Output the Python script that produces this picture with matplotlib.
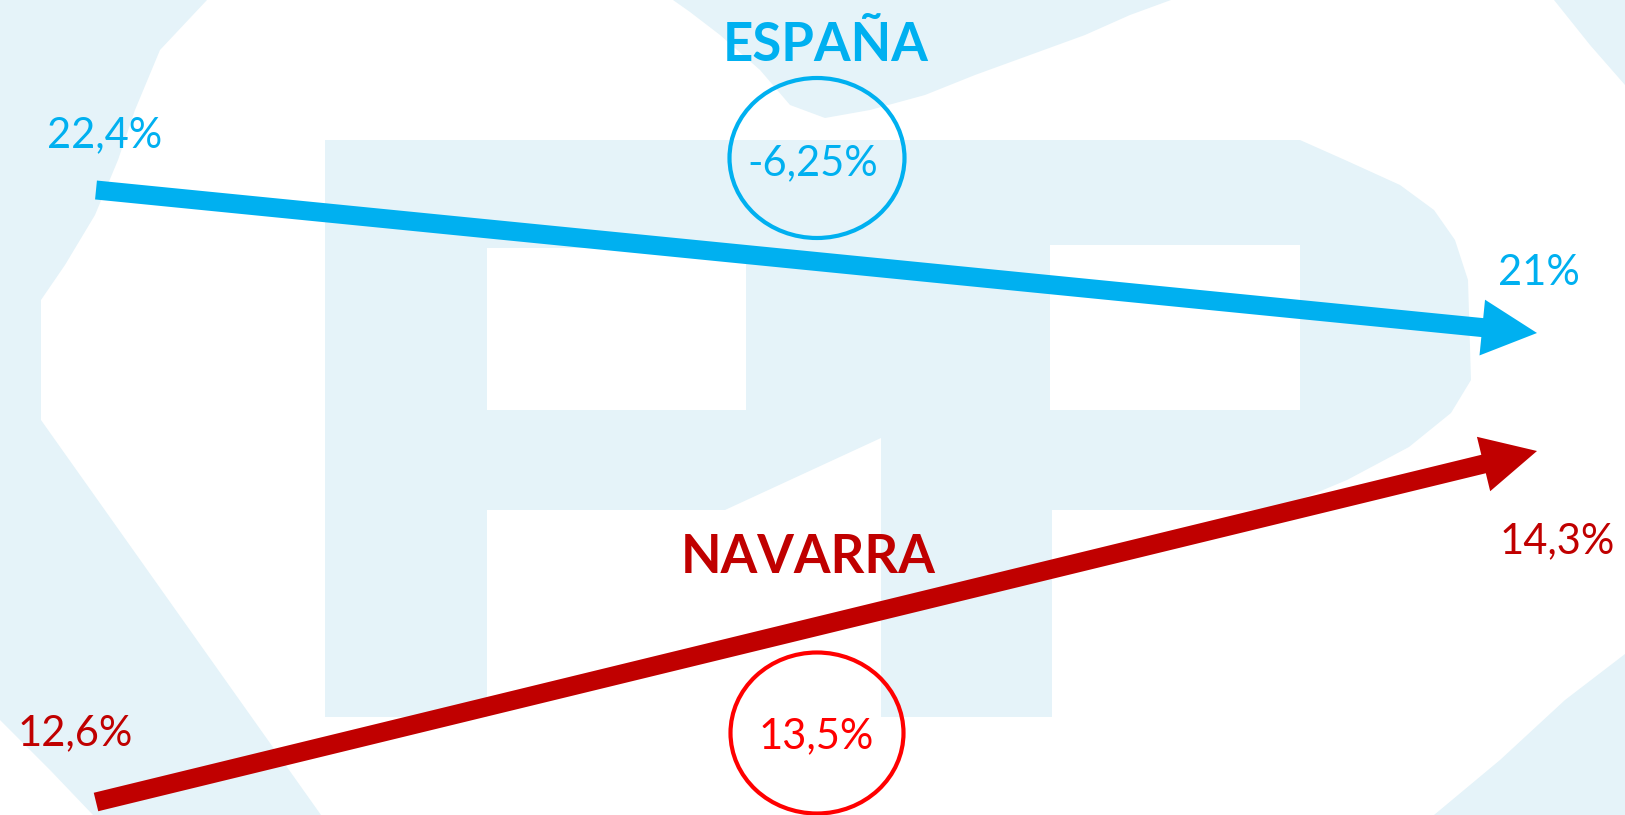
import matplotlib
matplotlib.use('Agg')
import matplotlib.pyplot as plt
from matplotlib.patches import Polygon, Rectangle, Ellipse, FancyArrow

# data
regions = ['ESPAÑA', 'NAVARRA']
rate_start = [22.4, 12.6]
rate_end = [21.0, 14.3]
change = [-6.25, 13.5]

line_colors = ['#00B0F0', '#C00000']
ring_colors = ['#00B0F0', '#FF0000']
change_colors = ['#00B0F0', '#FF0000']

# layout, in pixels of the 1625 x 815 canvas (y grows downward)
W, H = 1625, 815
arrow_x = (96, 1537)
arrow_y = [(190, 333), (802, 451)]
start_lbl = [(47, 147), (18, 745)]
end_lbl = [(1498, 285), (1500, 553)]
title_pos = [(826, 61), (808, 573)]
ring_pos = [(817, 158), (817, 733)]
ring_size = [(175, 160), (173, 161)]
change_pos = [(813, 175), (816, 748)]

wm = '#E5F3F9'


def fmt(v):
    return f'{v:g}'.replace('.', ',') + '%'


plt.rcParams['font.family'] = ['Lato', 'DejaVu Sans']

fig = plt.figure(figsize=(W / 100, H / 100), dpi=100)
ax = fig.add_axes([0, 0, 1, 1])
ax.set_xlim(0, W)
ax.set_ylim(H, 0)
ax.axis('off')

# faded logo in the background
shapes = [
    [(0, 0), (207, 0), (160, 50), (135, 110), (118, 160), (95, 215), (65, 265), (41, 300),
     (41, 420), (321, 815), (93, 815), (50, 770), (0, 720)],
    [(673, 0), (1171, 0), (1130, 15), (1085, 35), (1030, 55), (975, 75), (925, 95),
     (870, 110), (825, 118), (790, 105), (760, 70), (720, 35), (690, 12)],
    [(1554, 0), (W, 0), (W, 85), (1590, 45)],
    [(W, 654), (W, H), (1434, H), (1500, 760), (1565, 700)],
    [(325, 140), (1300, 140), (1345, 160), (1400, 185), (1434, 210), (1455, 240), (1468, 280),
     (1471, 380), (1451, 413), (1409, 447), (1347, 480), (1275, 510), (1052, 510), (1052, 717),
     (881, 717), (881, 438), (725, 510), (487, 510), (487, 717), (325, 717)],
]
for pts in shapes:
    ax.add_patch(Polygon(pts, closed=True, fc=wm, ec='none', zorder=0))
for x0, y0, x1, y1 in [(487, 248, 746, 410), (1050, 245, 1300, 410)]:
    ax.add_patch(Rectangle((x0, y0), x1 - x0, y1 - y0, fc='white', ec='none', zorder=0))

for i, name in enumerate(regions):
    c = line_colors[i]
    y0, y1 = arrow_y[i]
    ax.add_patch(FancyArrow(arrow_x[0], y0, arrow_x[1] - arrow_x[0], y1 - y0,
                            width=19, head_width=56, head_length=55,
                            length_includes_head=True, fc=c, ec='none', zorder=3))
    ax.text(*start_lbl[i], fmt(rate_start[i]), color=c, fontsize=30,
            ha='left', va='baseline', zorder=4)
    ax.text(*end_lbl[i], fmt(rate_end[i]), color=c, fontsize=30,
            ha='left', va='baseline', zorder=4)
    ax.text(*title_pos[i], name, color=c, fontsize=38, fontweight='bold',
            ha='center', va='baseline', zorder=4)
    ax.add_patch(Ellipse(ring_pos[i], *ring_size[i], fc='none',
                         ec=ring_colors[i], lw=3, zorder=4))
    ax.text(*change_pos[i], fmt(change[i]), color=change_colors[i], fontsize=30,
            ha='center', va='baseline', zorder=4)

fig.savefig('out.png', dpi=100)
